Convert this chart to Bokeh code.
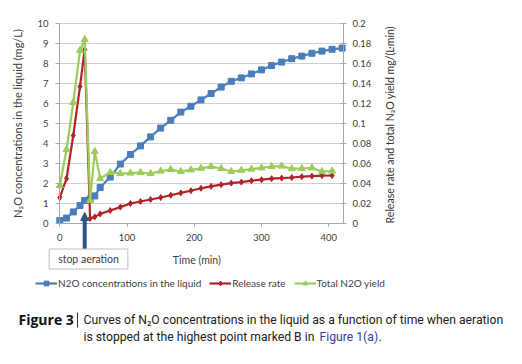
import math
from bokeh.plotting import figure
from bokeh.models import (Range1d, LinearAxis, Label, Legend, LegendItem, Arrow,
                          NormalHead, FixedTicker, CustomJSTickFormatter)
from bokeh.embed import file_html
from bokeh.resources import INLINE

# ---------------- data ----------------
time_liquid = [0, 10, 20, 30, 37, 45, 52, 60, 75, 90, 105, 120, 135, 150, 165, 180,
               195, 210, 225, 240, 255, 270, 285, 300, 315, 330, 345, 360, 375, 390,
               405, 420]
n2o_liquid = [0.15, 0.27, 0.58, 0.90, 1.15, 1.22, 1.38, 1.80, 2.32, 2.97, 3.45, 3.88,
              4.33, 4.77, 5.16, 5.57, 5.86, 6.18, 6.50, 6.82, 7.11, 7.28, 7.48, 7.68,
              7.90, 8.07, 8.24, 8.37, 8.51, 8.62, 8.71, 8.77]
time_rate = time_liquid[:-1]
release_rate = [0.026, 0.045, 0.088, 0.137, 0.174, 0.005, 0.0066, 0.0096, 0.013,
                0.0164, 0.020, 0.022, 0.024, 0.026, 0.0282, 0.0306, 0.0328, 0.0352,
                0.0372, 0.0388, 0.0404, 0.0414, 0.0428, 0.0438, 0.0448, 0.0454,
                0.046, 0.0468, 0.0474, 0.0478, 0.048]
total_yield = [0.038, 0.074, 0.121, 0.173, 0.184, 0.023, 0.072, 0.045, 0.051, 0.050,
               0.0504, 0.051, 0.050, 0.0524, 0.054, 0.052, 0.0536, 0.0552, 0.057,
               0.055, 0.052, 0.0532, 0.0544, 0.0556, 0.057, 0.0574, 0.0548, 0.055,
               0.0556, 0.052, 0.0524]
stop_time = 37
x_ticks = [0, 100, 200, 300, 400]
left_ticks = list(range(0, 11))
right_ticks = [0, 0.02, 0.04, 0.06, 0.08, 0.1, 0.12, 0.14, 0.16, 0.18, 0.2]

BLUE, RED, GREEN = "#4a7ebb", "#b02428", "#9ccc5a"
ARROW_C = "#2e5283"
GRID = "#cfcfcf"
AXC = "#a6a6a6"
TXT = "#404040"
FONT = "Lato"

# chart area in page pixels (canvas at page origin)
FL, FR, FT, FB = 59, 343, 23, 223
XMIN, XMAX = -0.5, 422.0
YMIN, YMAX = 0, 10
RMAX = 0.2
W, H = 520, 362
KX = (XMAX - XMIN) / (FR - FL)
KY = (YMAX - YMIN) / (FB - FT)
KR = RMAX / (FB - FT)


def X(px):
    return XMIN + (px - FL) * KX


def Y(py):
    return YMIN + (FB - py) * KY


def R(py):
    return (FB - py) * KR


p = figure(width=W, height=H, output_backend="svg", toolbar_location=None,
           x_range=Range1d(X(0), X(W)), y_range=Range1d(Y(H), Y(0)), min_border=0)
p.outline_line_color = None
p.background_fill_color = "white"
p.border_fill_color = "white"
p.extra_y_ranges = {"r": Range1d(R(H), R(0))}
p.xgrid.visible = False
p.ygrid.visible = False

# axes drawn at fixed positions
xa = p.xaxis[0]
ya = p.yaxis[0]
xa.fixed_location = YMIN
xa.bounds = (XMIN, XMAX)
xa.ticker = FixedTicker(ticks=x_ticks)
ya.fixed_location = XMIN
ya.bounds = (YMIN, YMAX)
ya.ticker = FixedTicker(ticks=left_ticks)
ar = LinearAxis(y_range_name="r", ticker=FixedTicker(ticks=right_ticks),
                formatter=CustomJSTickFormatter(code="""
                    return tick.toFixed(2).replace(/0+$/, '').replace(/\\.$/, '');"""))
ar.fixed_location = XMAX
ar.bounds = (0, RMAX)
p.add_layout(ar, "right")

for ax in (xa, ya, ar):
    ax.axis_line_color = AXC
    ax.major_tick_line_color = AXC
    ax.minor_tick_line_color = None
    ax.major_label_text_font = FONT
    ax.major_label_text_font_size = "9.5px"
    ax.major_label_text_color = TXT
xa.major_tick_in = 0
xa.major_tick_out = 3
xa.major_label_standoff = 7
ya.major_tick_in = 0
ya.major_tick_out = 4
ya.major_label_standoff = 7
ar.major_tick_in = 3
ar.major_tick_out = 3
ar.major_label_standoff = 6

# horizontal grid lines at the left-axis ticks
p.segment(x0=[XMIN] * len(left_ticks), x1=[XMAX] * len(left_ticks),
          y0=left_ticks, y1=left_ticks, line_color=GRID, line_width=1)

# series
l1 = p.line(time_liquid, n2o_liquid, line_color=BLUE, line_width=2.2)
s1 = p.scatter(time_liquid, n2o_liquid, marker="square", size=6, fill_color=BLUE,
               line_color=BLUE)
l2 = p.line(time_rate, release_rate, y_range_name="r", line_color=RED, line_width=2.2)
s2 = p.scatter(time_rate, release_rate, y_range_name="r", marker="diamond", size=6,
               fill_color=RED, line_color=RED)
l3 = p.line(time_rate, total_yield, y_range_name="r", line_color=GREEN, line_width=2.2)
s3 = p.scatter(time_rate, total_yield, y_range_name="r", marker="triangle", size=7,
               fill_color=GREEN, line_color=GREEN)

# legend below the chart
legend = Legend(items=[
    LegendItem(label="N2O concentrations in the liquid", renderers=[l1, s1]),
    LegendItem(label="Release rate", renderers=[l2, s2]),
    LegendItem(label="Total N2O yield", renderers=[l3, s3]),
], orientation="horizontal", location=(35, H - 289))
legend.glyph_width = 22
legend.glyph_height = 12
legend.label_standoff = 1
legend.spacing = 8
legend.padding = 0
legend.margin = 0
legend.border_line_color = None
legend.background_fill_alpha = 0
legend.label_text_font = FONT
legend.label_text_font_size = "10px"
legend.label_text_color = TXT
legend.label_height = 12
p.add_layout(legend)

# axis titles
p.add_layout(Label(x=X(17), y=Y(FT + (FB - FT) / 2), text="N₂O concentrations in the liquid (mg/L)",
                   angle=math.pi / 2, text_align="center", text_baseline="middle",
                   text_font=FONT, text_font_size="11px", text_color=TXT))
p.add_layout(Label(x=X(389), y=Y(FT + (FB - FT) / 2),
                   text="Release rate and total N₂O yield  mg/(L·min)",
                   angle=math.pi / 2, text_align="center", text_baseline="middle",
                   text_font=FONT, text_font_size="10.5px", text_color="#333333"))
p.add_layout(Label(x=X(199), y=Y(259), text="Time   (min)", text_align="center",
                   text_baseline="middle", text_font=FONT, text_font_size="10.5px",
                   text_color=TXT))

# stop aeration annotation
p.add_layout(Arrow(end=NormalHead(size=8, fill_color=ARROW_C, line_color=ARROW_C),
                   x_start=stop_time, y_start=Y(249), x_end=stop_time, y_end=Y(212),
                   line_color=ARROW_C, line_width=4))
p.add_layout(Label(x=X(88), y=Y(258.5), text="stop aeration", text_align="center",
                   text_baseline="middle", text_font=FONT, text_font_size="10.5px",
                   text_color=TXT, border_line_color="#bfbfbf",
                   background_fill_color="white",
                   padding=dict(left=9, right=9, top=4, bottom=4)))

# caption
CAP = "Roboto"
CAP_SIZE = "12.2px"
L1, L2 = 319, 336
p.add_layout(Label(x=X(18), y=Y(L1), text="Figure 3", text_align="left",
                   text_baseline="middle", text_font="Open Sans",
                   text_font_style="bold", text_font_size="14px", text_color="#111111"))
p.add_layout(Arrow(end=None, x_start=X(77), y_start=Y(312), x_end=X(77),
                   y_end=Y(327), line_color="#333333", line_width=1))
p.add_layout(Label(x=X(83), y=Y(L1),
                   text="Curves of N₂O concentrations in the liquid as a function of time when aeration",
                   text_align="left", text_baseline="middle", text_font=CAP,
                   text_font_size=CAP_SIZE, text_color="#222222"))
p.add_layout(Label(x=X(83), y=Y(L2),
                   text="is stopped at the highest point marked B in",
                   text_align="left", text_baseline="middle", text_font=CAP,
                   text_font_size=CAP_SIZE, text_color="#222222"))
p.add_layout(Label(x=X(319), y=Y(L2), text="Figure 1(a)", text_align="left",
                   text_baseline="middle", text_font=CAP, text_font_size=CAP_SIZE,
                   text_color="#3b3b9a"))
p.add_layout(Label(x=X(378), y=Y(L2), text=".", text_align="left",
                   text_baseline="middle", text_font=CAP, text_font_size=CAP_SIZE,
                   text_color="#222222"))

open("out.html", "w").write(file_html(p, INLINE))
